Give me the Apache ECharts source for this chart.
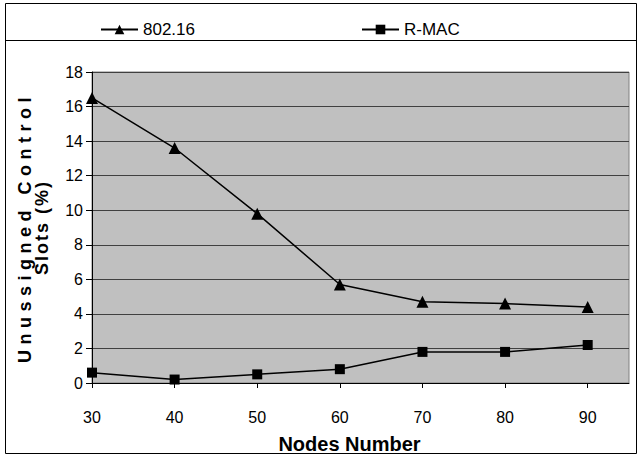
<!DOCTYPE html>
<html>
<head>
<meta charset="utf-8">
<script src="https://cdn.jsdelivr.net/npm/echarts@6/dist/echarts.min.js"></script>
<style>
    html, body { margin: 0; padding: 0; background: #fff; }
    #chart { width: 637px; height: 459px; }
</style>
</head>
<body>
<div id="chart"></div>
<script>
// values
var nodes = [30, 40, 50, 60, 70, 80, 90];
var ieee80216 = [16.5, 13.6, 9.8, 5.7, 4.7, 4.6, 4.4];
var rmac = [0.6, 0.2, 0.5, 0.8, 1.8, 1.8, 2.2];
var xTicks = [30, 40, 50, 60, 70, 80, 90];

var arial = '"Liberation Sans", Arial, sans-serif';
var chart = echarts.init(document.getElementById('chart'), null, { renderer: 'svg' });

function pairs(ys) {
    var out = [];
    for (var i = 0; i < nodes.length; i++) {
        out.push([nodes[i], ys[i]]);
    }
    return out;
}

var legendText = { color: '#000', fontFamily: arial, fontSize: 17 };

var option = {
    animation: false,
    backgroundColor: '#fff',
    graphic: [{
        type: 'rect',
        shape: { x: 5.5, y: 3.5, width: 631, height: 450 },
        style: { fill: null, stroke: '#000', lineWidth: 1 },
        silent: true
    }, {
        type: 'line',
        shape: { x1: 5.5, y1: 40.5, x2: 636.5, y2: 40.5 },
        style: { stroke: '#000', lineWidth: 1 },
        silent: true
    }],
    legend: [{
        left: 95,
        top: 16,
        itemWidth: 37,
        itemHeight: 12,
        itemGap: 0,
        data: ['802.16'],
        textStyle: legendText
    }, {
        left: 356,
        top: 16,
        itemWidth: 37,
        itemHeight: 12,
        data: ['R-MAC'],
        textStyle: legendText
    }],
    grid: {
        left: 92,
        right: 8,
        top: 72,
        bottom: 72,
        show: true,
        backgroundColor: '#c0c0c0',
        borderColor: '#808080',
        borderWidth: 1
    },
    xAxis: {
        type: 'value',
        min: 30,
        max: 95,
        interval: 10,
        name: 'Nodes Number',
        nameLocation: 'middle',
        nameGap: 51,
        nameTextStyle: {
            fontFamily: arial,
            fontWeight: 'bold',
            fontSize: 20,
            color: '#000',
            padding: [0, 22, 0, 0]
        },
        axisLine: { show: true, onZero: false, lineStyle: { color: '#000', width: 1 } },
        axisTick: { show: true, length: 5, customValues: xTicks, lineStyle: { color: '#000' } },
        axisLabel: {
            customValues: xTicks,
            margin: 26,
            color: '#000',
            fontFamily: arial,
            fontSize: 16
        },
        splitLine: { show: false }
    },
    yAxis: {
        type: 'value',
        min: 0,
        max: 18,
        interval: 2,
        name: 'Unussigned Control\nSlots (%)',
        nameLocation: 'middle',
        nameRotate: 90,
        nameGap: 42,
        nameTextStyle: {
            fontFamily: arial,
            fontWeight: 'bold',
            fontSize: 18,
            lineHeight: 17,
            color: '#000'
        },
        axisLine: { show: true, lineStyle: { color: '#000', width: 1 } },
        axisTick: { show: true, length: 6, lineStyle: { color: '#000' } },
        axisLabel: {
            margin: 9,
            color: '#000',
            fontFamily: arial,
            fontSize: 16
        },
        splitLine: { show: true, lineStyle: { color: '#404040', width: 1 } }
    },
    series: [{
        name: '802.16',
        type: 'line',
        data: pairs(ieee80216),
        symbol: 'triangle',
        symbolSize: 12,
        itemStyle: { color: '#000' },
        lineStyle: { color: '#000', width: 1.5 }
    }, {
        name: 'R-MAC',
        type: 'line',
        data: pairs(rmac),
        symbol: 'rect',
        symbolSize: 10,
        itemStyle: { color: '#000' },
        lineStyle: { color: '#000', width: 1.5 }
    }]
};

chart.setOption(option);

// the axis title in the original is letter-spaced; zrender has no option for it
function spaceTitle() {
    var texts = document.querySelectorAll('#chart svg text');
    for (var i = 0; i < texts.length; i++) {
        var t = texts[i].textContent;
        if (t.indexOf('Unussigned') >= 0) {
            texts[i].style.letterSpacing = '5.5px';
        } else if (t.indexOf('Slots') >= 0) {
            texts[i].style.letterSpacing = '2px';
        }
    }
}
spaceTitle();
chart.on('finished', spaceTitle);
</script>
</body>
</html>
